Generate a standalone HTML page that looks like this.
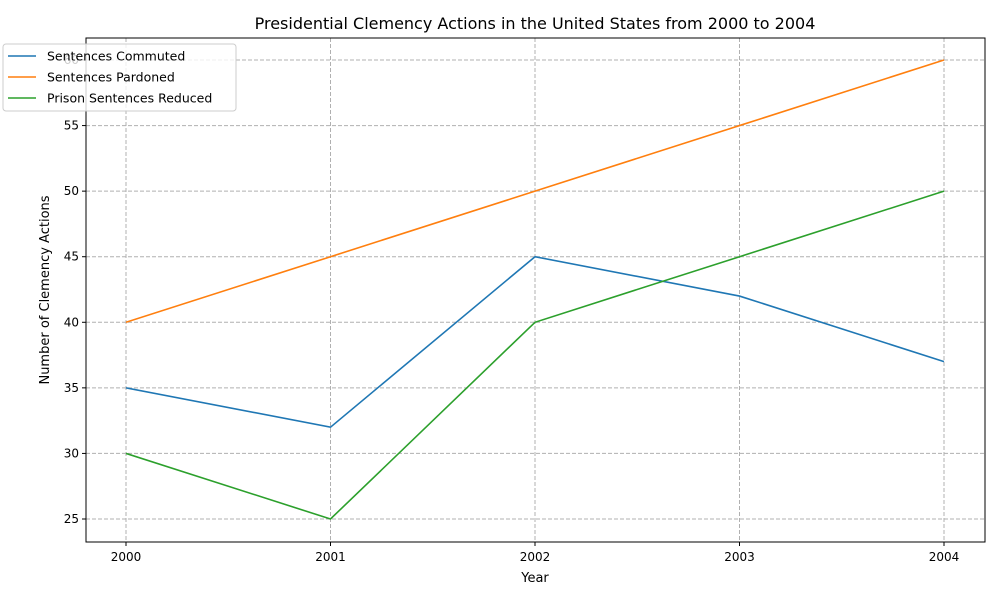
<!DOCTYPE html>
<html><head><meta charset="utf-8"><style>
body{margin:0;background:#fff;font-family:"Liberation Sans","DejaVu Sans",sans-serif;}
</style></head><body>
<svg width="1000" height="600" xmlns="http://www.w3.org/2000/svg" font-family="DejaVu Sans, Liberation Sans, sans-serif">
<text x="535" y="29" font-size="16" text-anchor="middle">Presidential Clemency Actions in the United States from 2000 to 2004</text>
<g id="grid"></g>
<g id="series"></g>
<rect x="86" y="38" width="899" height="504" fill="none" stroke="#000" stroke-width="1"/>
<g id="ticks" font-size="12"></g>
<text x="535" y="582" font-size="13" text-anchor="middle">Year</text>
<text transform="translate(49,290) rotate(-90)" font-size="13" text-anchor="middle">Number of Clemency Actions</text>
<g id="legend">
<rect x="3" y="44" width="233" height="67" rx="3" fill="rgba(255,255,255,0.8)" stroke="#ccc"/>
</g>
</svg>
<script>
const years=[2000,2001,2002,2003,2004];
const commuted=[35,32,45,42,37];
const pardoned=[40,45,50,55,60];
const reduced=[30,25,40,45,50];
const yTicks=[25,30,35,40,45,50,55,60];
const seriesNames=["Sentences Commuted","Sentences Pardoned","Prison Sentences Reduced"];
const colors=["#1f77b4","#ff7f0e","#2ca02c"];
const NS="http://www.w3.org/2000/svg";
const xs=v=>126+(v-2000)*(944-126)/4;
const ys=v=>519-(v-25)*(519-60)/35;
function mk(tag,attrs,parent){const e=document.createElementNS(NS,tag);for(const k in attrs)e.setAttribute(k,attrs[k]);parent.appendChild(e);return e;}
const grid=document.getElementById('grid'),ticks=document.getElementById('ticks'),ser=document.getElementById('series'),leg=document.getElementById('legend');
years.forEach(y=>{
 const g=mk('line',{x1:xs(y),x2:xs(y),y1:38,y2:542,stroke:'#b0b0b0','stroke-dasharray':'4,2'},grid);
 
 
 mk('line',{x1:xs(y),x2:xs(y),y1:542,y2:546,stroke:'#000'},ticks);
 const t=mk('text',{x:xs(y),y:561,'text-anchor':'middle'},ticks);t.textContent=y;
 
 
});
yTicks.forEach(v=>{
 const g=mk('line',{x1:86,x2:985,y1:ys(v),y2:ys(v),stroke:'#b0b0b0','stroke-dasharray':'4,2'},grid);
 
 
 mk('line',{x1:82,x2:86,y1:ys(v),y2:ys(v),stroke:'#000'},ticks);
 const t=mk('text',{x:79,y:ys(v)+4,'text-anchor':'end'},ticks);t.textContent=v;
 
 
});
[commuted,pardoned,reduced].forEach((d,i)=>{
 const p=mk('polyline',{points:d.map((v,j)=>xs(years[j])+','+ys(v)).join(' '),fill:'none',stroke:colors[i],'stroke-width':1.6},ser);
 
 
});
// redraw legend on top
document.querySelector('svg').appendChild(leg);
seriesNames.forEach((n,i)=>{
 const y=56+i*21;
 mk('line',{x1:8,x2:36,y1:y,y2:y,stroke:colors[i],'stroke-width':1.6},leg);
 const t=mk('text',{x:47,y:y+4.5,'font-size':12.5},leg);t.textContent=n;
 
 
});
</script>
</body></html>
